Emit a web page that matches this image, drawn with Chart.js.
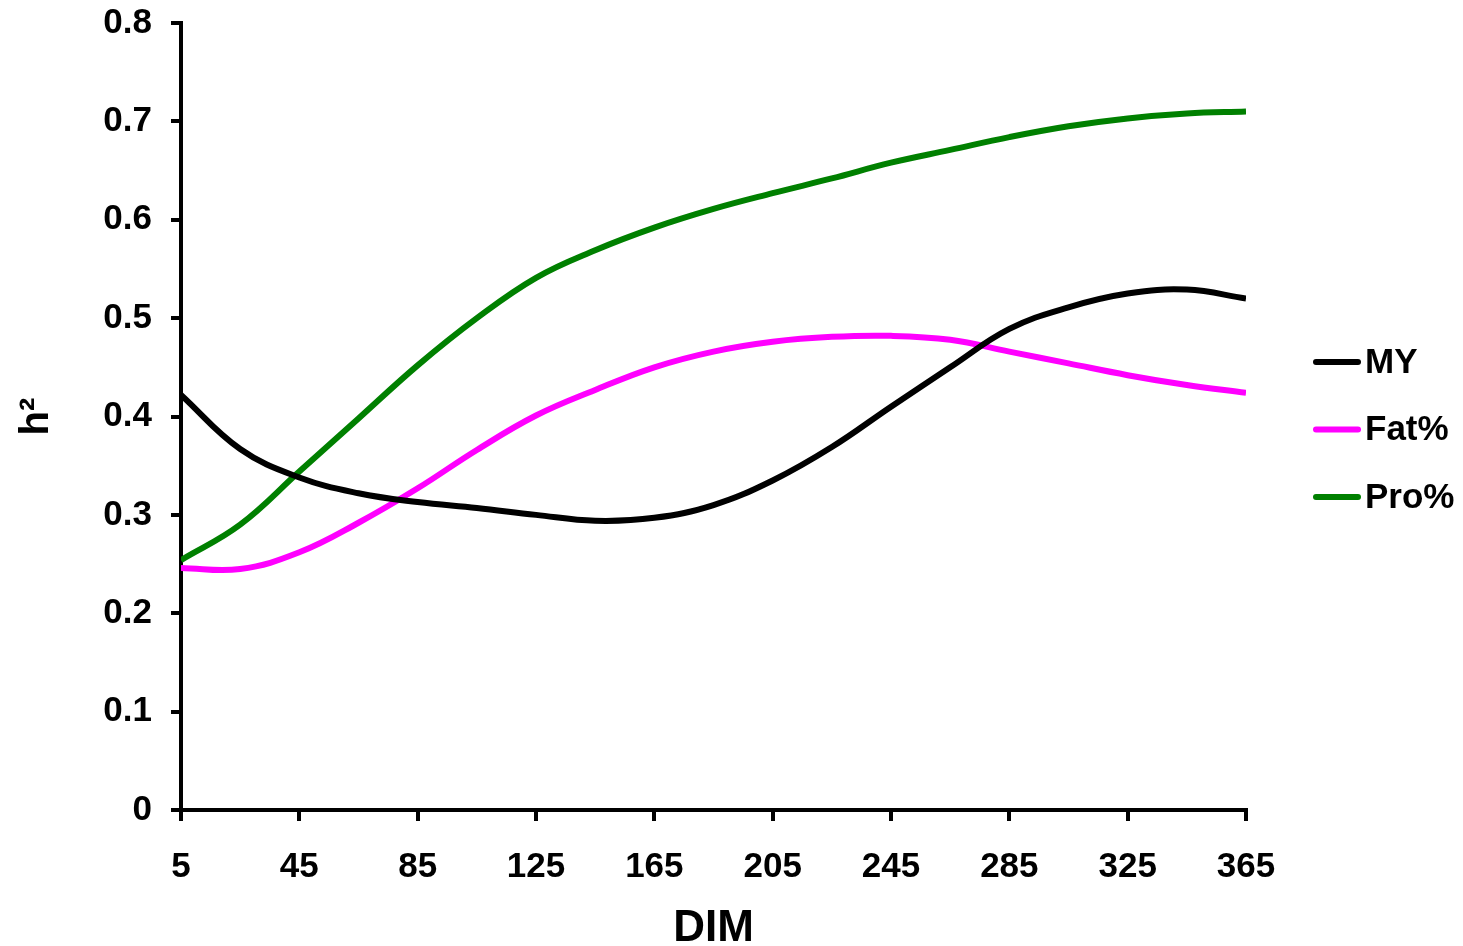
<!DOCTYPE html>
<html>
<head>
<meta charset="utf-8">
<script src="https://cdn.jsdelivr.net/npm/chart.js@4.4.0/dist/chart.umd.min.js"></script>
<style>
  html, body { margin: 0; padding: 0; background: #fff; }
  #wrap { width: 1463px; height: 946px; }
</style>
</head>
<body>
<div id="wrap"><canvas id="h2Chart" width="1463" height="946"></canvas></div>
<script>
// Dias en leche y heredabilidades
const dim = [5, 25, 45, 65, 85, 105, 125, 145, 165, 185, 205, 225, 245, 265, 285, 305, 325, 345, 365];
const my = [0.422, 0.367, 0.338, 0.322, 0.313, 0.307, 0.300, 0.294, 0.297, 0.310, 0.335, 0.369, 0.410, 0.450, 0.489, 0.511, 0.525, 0.529, 0.520];
const fat = [0.246, 0.245, 0.262, 0.292, 0.327, 0.366, 0.401, 0.427, 0.450, 0.466, 0.476, 0.481, 0.482, 0.478, 0.466, 0.454, 0.442, 0.432, 0.424];
const pro = [0.254, 0.290, 0.344, 0.398, 0.452, 0.500, 0.541, 0.569, 0.592, 0.611, 0.627, 0.642, 0.658, 0.671, 0.684, 0.695, 0.703, 0.708, 0.710];
const seriesNames = ["MY", "Fat%", "Pro%"];
const seriesColors = ["#000000", "#ff00ff", "#008000"];
const xTicks = [5, 45, 85, 125, 165, 205, 245, 285, 325, 365];

const toPoints = vals => vals.map((v, i) => ({ x: dim[i], y: v }));

const datasets = [my, fat, pro].map((vals, i) => ({
    label: seriesNames[i],
    data: toPoints(vals),
    borderColor: seriesColors[i],
    backgroundColor: seriesColors[i],
    borderWidth: 6,
    pointRadius: 0,
    tension: 0.4,
    fill: false
}));

const fontFamily = "Arial, 'Liberation Sans', sans-serif";
const font = { family: fontFamily, weight: 'bold' };

// Leyenda a la derecha: segmento de linea + texto
const sideLegend = {
    id: 'sideLegend',
    afterDraw(chart) {
        const c = chart.ctx;
        const x0 = 1316, x1 = 1358, top = 362, step = 67.5;
        c.save();
        c.font = "bold 35px " + fontFamily;
        c.textBaseline = 'middle';
        c.lineCap = 'round';
        chart.data.datasets.forEach((ds, i) => {
            const y = top + i * step;
            c.strokeStyle = ds.borderColor;
            c.lineWidth = 6;
            c.beginPath();
            c.moveTo(x0, y);
            c.lineTo(x1, y);
            c.stroke();
            c.fillStyle = '#000';
            c.fillText(ds.label, 1365, y + 1);
        });
        c.restore();
    }
};

new Chart(document.getElementById('h2Chart').getContext('2d'), {
    type: 'line',
    data: { datasets: datasets },
    plugins: [sideLegend],
    options: {
        responsive: false,
        animation: false,
        layout: { padding: { top: 23, right: 217, left: 0, bottom: 0 } },
        plugins: {
            legend: { display: false },
            tooltip: { enabled: false }
        },
        scales: {
            x: {
                type: 'linear',
                min: 5,
                max: 365,
                afterBuildTicks: axis => { axis.ticks = xTicks.map(v => ({ value: v })); },
                afterFit: axis => { axis.height = 136; },
                border: { display: true, color: '#000', width: 4 },
                grid: { drawOnChartArea: false, drawTicks: true, tickLength: 11, color: '#000', lineWidth: 4 },
                ticks: { color: '#000', font: { ...font, size: 35 }, padding: 25, maxRotation: 0 },
                title: { display: true, text: 'DIM', color: '#000', font: { ...font, size: 44, lineHeight: 0.8 }, padding: { top: 4, bottom: 0 } }
            },
            y: {
                min: 0,
                max: 0.8,
                afterFit: axis => { axis.width = 181; axis.paddingTop = 0; axis.paddingBottom = 0; },
                border: { display: true, color: '#000', width: 4 },
                grid: { drawOnChartArea: false, drawTicks: true, tickLength: 10, color: '#000', lineWidth: 4 },
                ticks: { stepSize: 0.1, color: '#000', font: { ...font, size: 35 }, padding: 19,
                    callback: v => Number(v.toFixed(1)).toString() },
                title: { display: true, text: 'h²', color: '#000', font: { ...font, size: 40 }, padding: { top: 13, bottom: 0 } }
            }
        }
    }
});
</script>
</body>
</html>
